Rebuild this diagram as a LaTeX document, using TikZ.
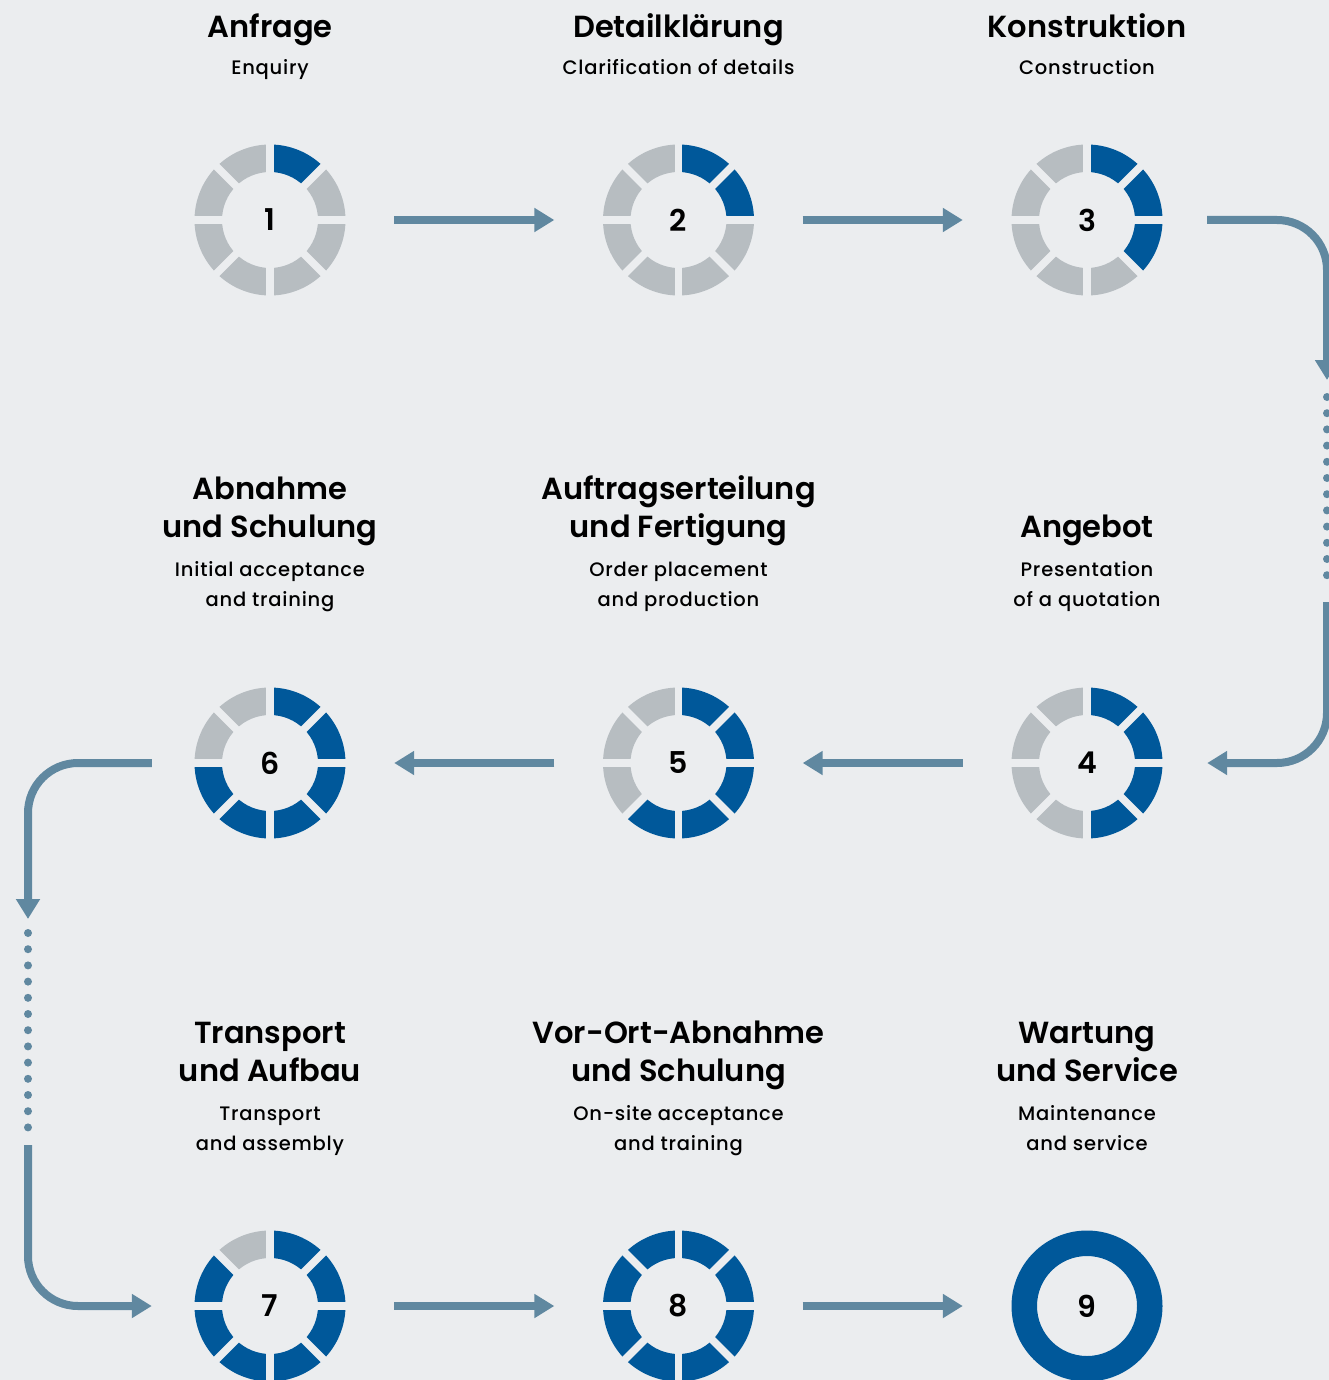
\documentclass[tikz,border=0pt]{standalone}
\usepackage{fontspec}
\setmainfont{Poppins}[UprightFont=*-Medium, BoldFont=*-SemiBold]
\newfontfamily\subfont{Poppins}[UprightFont=*-Medium, LetterSpace=4]
\usetikzlibrary{positioning, arrows.meta}

\definecolor{bg}{HTML}{EBEDEF}
\definecolor{done}{HTML}{00589A}
\definecolor{open}{HTML}{B7BDC1}
\definecolor{flow}{HTML}{6088A0}

\tikzset{
  stage/.style={circle, minimum size=151pt, inner sep=0pt,
    font=\bfseries\fontsize{30}{30}\selectfont},
  headline/.style={anchor=base, align=center,
    font=\bfseries\fontsize{30.5}{38}\selectfont},
  subline/.style={anchor=base, align=center,
    font=\subfont\fontsize{19.5}{30}\selectfont},
  flow arrow/.style={draw=flow, line width=8pt,
    -{Triangle[width=23pt,length=20pt]}},
  flow dots/.style={draw=flow, line width=8pt, line cap=round,
    dash pattern=on 0pt off 16.2pt},
}

% segmented ring around a stage: #1 node, #2 segments done
\newcommand{\stagering}[2]{%
  \begin{scope}[shift={(#1.center)}]
    \foreach \k in {1,...,8} {
      \pgfmathsetmacro{\a}{90-45*(\k-1)}
      \ifnum\k>#2 \def\segcol{open}\else\def\segcol{done}\fi
      \fill[\segcol] (\a:75.5pt) arc[start angle=\a, end angle=\a-45, radius=75.5pt]
        -- (\a-45:48pt) arc[start angle=\a-45, end angle=\a, radius=48pt] -- cycle;
    }
    \foreach \a in {0,45,...,315}
      \draw[bg, line width=7.5pt] (\a:44pt) -- (\a:80pt);
  \end{scope}}

\begin{document}
\begin{tikzpicture}[x=1pt, y=-1pt, on grid, node distance=543pt and 408.5pt]
  \fill[bg] (0,0) rectangle (1329,1380);
  \useasboundingbox (0,0) rectangle (1329,1380);

  % stages
  \node[stage] (s1) at (270,220) {1};
  \node[stage] (s2) [right=of s1] {2};
  \node[stage] (s3) [right=of s2] {3};
  \node[stage] (s4) [below=of s3] {4};
  \node[stage] (s5) [left=of s4] {5};
  \node[stage] (s6) [left=of s5] {6};
  \node[stage] (s7) [below=of s6] {7};
  \node[stage] (s8) [right=of s7] {8};
  \node[stage] (s9) [right=of s8] {9};

  \stagering{s1}{1}
  \stagering{s2}{2}
  \stagering{s3}{3}
  \stagering{s4}{4}
  \stagering{s5}{5}
  \stagering{s6}{6}
  \stagering{s7}{7}
  \stagering{s8}{8}
  \fill[done, even odd rule] (s9) circle[radius=75.5pt] (s9) circle[radius=50pt];

  % titles (base = last line)
  \node[headline] (h1) at ([yshift=182pt]s1.center) {Anfrage};
  \node[headline] (h2) at ([yshift=182pt]s2.center) {Detailklärung};
  \node[headline] (h3) at ([yshift=182pt]s3.center) {Konstruktion};
  \node[headline] (h4) at ([yshift=225.5pt]s4.center) {Angebot};
  \node[headline] (h5) at ([yshift=225.5pt]s5.center) {Auftragserteilung\\und Fertigung};
  \node[headline] (h6) at ([yshift=225.5pt]s6.center) {Abnahme\\und Schulung};
  \node[headline] (h7) at ([yshift=224.5pt]s7.center) {Transport\\und Aufbau};
  \node[headline] (h8) at ([yshift=224.5pt]s8.center) {Vor-Ort-Abnahme\\und Schulung};
  \node[headline] (h9) at ([yshift=224.5pt]s9.center) {Wartung\\und Service};

  \node[subline] (e1) at ([yshift=145pt]s1.center) {Enquiry};
  \node[subline] (e2) at ([yshift=145pt]s2.center) {Clarification of details};
  \node[subline] (e3) at ([yshift=145pt]s3.center) {Construction};
  \node[subline] (e4) at ([yshift=157pt]s4.center) {Presentation\\of a quotation};
  \node[subline] (e5) at ([yshift=157pt]s5.center) {Order placement\\and production};
  \node[subline] (e6) at ([yshift=157pt]s6.center) {Initial acceptance\\and training};
  \node[subline] (e7) at ([yshift=156pt]s7.center) {Transport\\and assembly};
  \node[subline] (e8) at ([yshift=156pt]s8.center) {On-site acceptance\\and training};
  \node[subline] (e9) at ([yshift=156pt]s9.center) {Maintenance\\and service};

  % straight steps
  \foreach \u/\v in {s1/s2, s2/s3, s4/s5, s5/s6, s7/s8, s8/s9}
    \draw[flow arrow, shorten <=48.5pt, shorten >=48.5pt] (\u) -- (\v);

  % right turn, 3 to 4
  \coordinate (r1) at (1327,380);
  \coordinate (r2) at (1327,397);
  \coordinate (r3) at (1327,587);
  \coordinate (r4) at (1327,602);
  \draw[flow arrow, rounded corners=50pt] ([xshift=44.5pt]s3.east) -| (r1);
  \draw[flow dots] (r2) -- (r3);
  \draw[flow arrow, rounded corners=50pt] (r4) |- ([xshift=44.5pt]s4.east);

  % left turn, 6 to 7
  \coordinate (l1) at (28,919);
  \coordinate (l2) at (28,933);
  \coordinate (l3) at (28,1130);
  \coordinate (l4) at (28,1145);
  \draw[flow arrow, rounded corners=50pt] ([xshift=-42.5pt]s6.west) -| (l1);
  \draw[flow dots] (l2) -- (l3);
  \draw[flow arrow, rounded corners=50pt] (l4) |- ([xshift=-42.5pt]s7.west);
\end{tikzpicture}
\end{document}
